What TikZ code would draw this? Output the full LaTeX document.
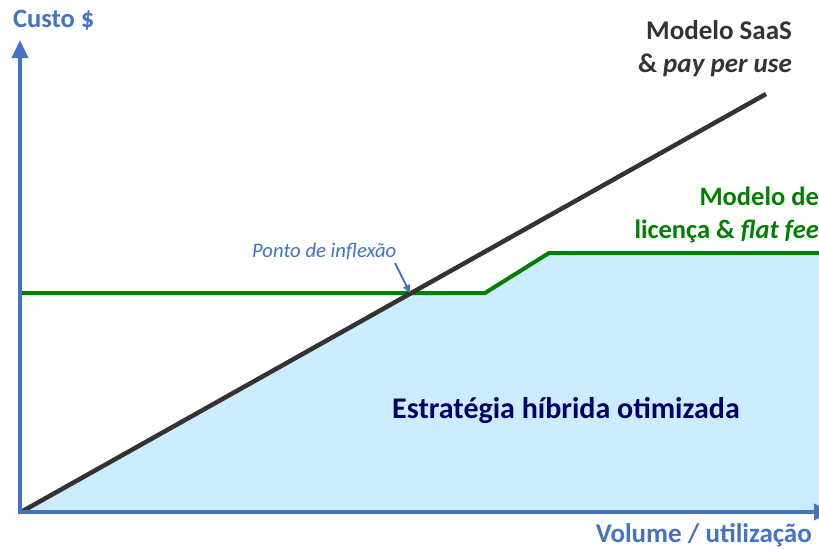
\documentclass[tikz,border=0pt]{standalone}
\usepackage{fontspec}
\setmainfont{Carlito}
\usetikzlibrary{arrows.meta}
\definecolor{axisblue}{RGB}{68,114,196}
\definecolor{saasgray}{RGB}{51,51,51}
\definecolor{licgreen}{RGB}{0,128,0}
\definecolor{fillblue}{RGB}{204,236,255}
\definecolor{navy}{RGB}{0,0,102}
\tikzset{
  axisline/.style={draw=axisblue, line width=3.5pt, -{Triangle[length=18pt,width=16pt]}},
  saasline/.style={draw=saasgray, line width=4.5pt},
  licline/.style={draw=licgreen, line width=4pt, line join=round},
  lbl/.style={inner sep=0pt, font=\bfseries},
}
\begin{document}
\begin{tikzpicture}[x=1pt,y=-1pt]
\useasboundingbox (0,0) rectangle (819,549);
\clip (0,0) rectangle (819,549);
% points
\coordinate (O) at (20,512);
\coordinate (S0) at (21,512);
\coordinate (S1) at (766,94);
\coordinate (G0) at (20,293);
\coordinate (X) at (410,293);
\coordinate (G1) at (485,293);
\coordinate (G2) at (549,253);
\coordinate (G3) at (830,253);
\coordinate (R) at (830,512);
\coordinate (YT) at (20,40);
\coordinate (XT) at (832,512);
% fill
\fill[fillblue] (S0) -- (X) -- (G1) -- (G2) -- (G3) -- (R) -- cycle;
% lines
\draw[licline] (G0) -- (G1) -- (G2) -- (G3);
\draw[saasline] (S0) -- (S1);
% axes
\draw[axisline] (20,514) -- (YT);
\draw[axisline] (18,512) -- (XT);
% labels
\node[lbl, text=axisblue, font=\bfseries\fontsize{26.5}{30}\selectfont, anchor=base west] (ylab) at (13,27) {Custo \$};
\node[lbl, text=axisblue, font=\bfseries\fontsize{27}{30}\selectfont, anchor=base east] (xlab) at (812,542) {Volume / utilização};
\node[lbl, text=saasgray, font=\bfseries\fontsize{27}{33}\selectfont, anchor=base east] (saas1) at (792,39) {Modelo SaaS};
\node[lbl, text=saasgray, font=\bfseries\fontsize{27}{33}\selectfont, anchor=base east] (saas2) at (792,72) {\& \textit{pay per use}};
\node[lbl, text=licgreen, font=\bfseries\fontsize{26.5}{33}\selectfont, anchor=base east] (lic1) at (819,205) {Modelo de};
\node[lbl, text=licgreen, font=\bfseries\fontsize{26.5}{33}\selectfont, anchor=base east] (lic2) at (819,238) {licença \& \textit{flat fee}};
\node[lbl, text=navy, font=\bfseries\fontsize{30}{34}\selectfont, anchor=base] (hyb) at (566,418) {Estratégia híbrida otimizada};
\node[inner sep=0pt, text=axisblue, font=\itshape\fontsize{20.7}{24}\selectfont, anchor=base west] (pin) at (252,257) {Ponto de inflexão};
\coordinate (pinS) at (395,263);
\draw[draw=axisblue, line width=1.8pt, -{Triangle[length=8pt,width=7pt]}] (pinS) -- (X);
\end{tikzpicture}
\end{document}
